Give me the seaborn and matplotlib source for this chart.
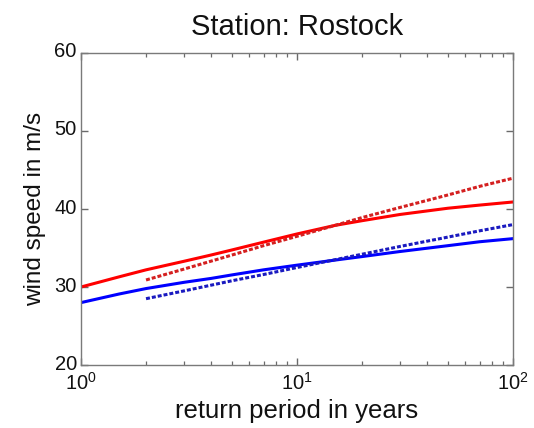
import numpy as np
import pandas as pd
import matplotlib
matplotlib.use("Agg")
import matplotlib.pyplot as plt
import matplotlib.transforms as mtransforms
import seaborn as sns

# Return periods (years) and wind speed estimates (m/s)
period_fit = [1, 1.5, 2, 3, 4, 5, 7, 10, 15, 20, 30, 50, 70, 100]
red_fit = [30.0, 31.3, 32.2, 33.3, 34.1, 34.75, 35.75, 36.8, 37.9, 38.5, 39.3, 40.1, 40.5, 40.9]
blue_fit = [28.0, 29.1, 29.8, 30.6, 31.1, 31.55, 32.2, 32.8, 33.45, 33.9, 34.55, 35.3, 35.8, 36.2]

period_obs = [2, 3, 5, 7, 10, 15, 20, 30, 50, 70, 100]
red_obs = [30.9, 32.3, 34.1, 35.3, 36.5, 37.9, 38.9, 40.2, 41.8, 42.9, 43.95]
blue_obs = [28.5, 29.5, 30.8, 31.6, 32.5, 33.5, 34.2, 35.2, 36.4, 37.2, 38.0]

sns.set_theme(style="white")
plt.rcParams["font.family"] = ["Liberation Sans", "DejaVu Sans"]
plt.rcParams["mathtext.fontset"] = "custom"
plt.rcParams["mathtext.rm"] = "Liberation Sans"
plt.rcParams["mathtext.it"] = "Liberation Sans"

fig = plt.figure(figsize=(5.34, 4.28), dpi=100)
fig.patch.set_facecolor("white")
ax = fig.add_axes([81 / 534, 1 - 365 / 428, 432 / 534, 312 / 428])

lw = 2.2
dash = (1.3, 0.65)
sns.lineplot(x=period_fit, y=red_fit, ax=ax, color="#ff0000", linewidth=lw)
sns.lineplot(x=period_fit, y=blue_fit, ax=ax, color="#0000ff", linewidth=lw)
sns.lineplot(x=period_obs, y=red_obs, ax=ax, color="#d42020", linewidth=lw)
ax.lines[-1].set_dashes(dash)
sns.lineplot(x=period_obs, y=blue_obs, ax=ax, color="#1a1ac0", linewidth=lw)
ax.lines[-1].set_dashes(dash)

ax.set_xscale("log")
ax.set_xlim(1, 100)
ax.set_ylim(20, 60)
ax.set_yticks([20, 30, 40, 50, 60])

for s in ax.spines.values():
    s.set_color("#7a7a7a")
    s.set_linewidth(1.0)
ax.tick_params(which="both", direction="in", bottom=True, left=True,
               top=True, right=True, color="#6a6a6a",
               labelsize=14.5, labelcolor="#111111")
ax.tick_params(which="major", length=5, width=1.0)
ax.tick_params(which="minor", length=3, width=0.9)
ax.tick_params(axis="x", which="major", pad=5)
ax.tick_params(axis="y", which="major", pad=3)
ax.minorticks_on()
ax.yaxis.set_minor_locator(matplotlib.ticker.NullLocator())

# y tick labels sit slightly above their tick
lift = mtransforms.ScaledTranslation(0, 3 / 100, fig.dpi_scale_trans)
for lab in ax.get_yticklabels():
    lab.set_transform(lab.get_transform() + lift)

ax.set_title("Station: Rostock", fontsize=21, pad=13, color="#111111")
ax.set_xlabel("return period in years", fontsize=18.5, labelpad=4, color="#111111")
ax.set_ylabel("wind speed in m/s", fontsize=17.5, labelpad=6, color="#111111")

fig.savefig("out.png", dpi=100, facecolor="white")
